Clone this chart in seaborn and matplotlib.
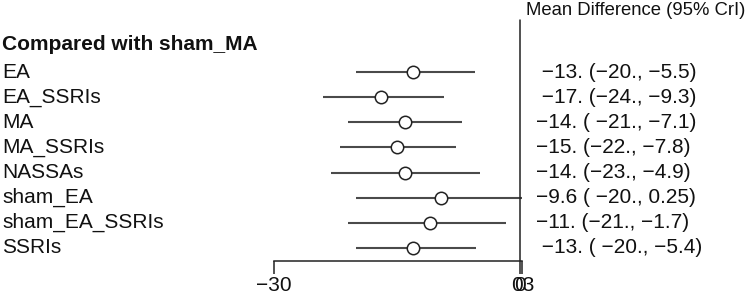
import numpy as np
import pandas as pd
import matplotlib
matplotlib.use("Agg")
import matplotlib.pyplot as plt
import seaborn as sns

sns.set_style("white")
plt.rcParams["font.family"] = ["Liberation Sans", "DejaVu Sans"]

treatments = ["EA", "EA_SSRIs", "MA", "MA_SSRIs", "NASSAs",
              "sham_EA", "sham_EA_SSRIs", "SSRIs"]
mean_diff = [-13.0, -17.0, -14.0, -15.0, -14.0, -9.6, -11.0, -13.0]
lower = [-20.0, -24.0, -21.0, -22.0, -23.0, -20.0, -21.0, -20.0]
upper = [-5.5, -9.3, -7.1, -7.8, -4.9, 0.25, -1.7, -5.4]
ci_labels = [" \u221213. (\u221220., \u22125.5)",
             " \u221217. (\u221224., \u22129.3)",
             "\u221214. ( \u221221., \u22127.1)",
             "\u221215. (\u221222., \u22127.8)",
             "\u221214. (\u221223., \u22124.9)",
             "\u22129.6 ( \u221220., 0.25)",
             "\u221211. (\u221221., \u22121.7)",
             " \u221213. ( \u221220., \u22125.4)"]
tick_vals = [-30, 0, 0.3]
tick_text = ["\u221230", "0", "03"]

df = pd.DataFrame({"treatment": treatments, "md": mean_diff,
                   "lo": lower, "hi": upper, "row": np.arange(len(treatments))})

FS = 15
fig = plt.figure(figsize=(7.49, 2.97), dpi=100)
ax = fig.add_axes([0, 36 / 297, 1, 261 / 297])

px = 8.2  # pixels per unit
ax.set_xlim(-30 - 274 / px, (749 - 520) / px)
ax.set_ylim((261 - 72) / 25.14, -72 / 25.14)

ax.hlines(df["row"], df["lo"], df["hi"], color="#4a4a4a", lw=1.5, zorder=1)
sns.scatterplot(data=df, x="md", y="row", ax=ax, marker="o", s=80,
                facecolor="white", edgecolor="#222222", linewidth=1.1,
                zorder=3, legend=False)
ax.axvline(0, ymin=0, ymax=1 - 20 / 261, color="#222222", lw=1.1, zorder=2)

for sp in ["top", "left", "right"]:
    ax.spines[sp].set_visible(False)
ax.spines["bottom"].set_bounds(-30, 0.3)
ax.spines["bottom"].set_color("#222222")
ax.spines["bottom"].set_linewidth(1.1)
ax.set_xticks(tick_vals)
ax.set_xticklabels(tick_text, fontsize=FS)
ax.tick_params(axis="x", bottom=True, direction="out", length=9, width=1.1,
               color="#222222", pad=2, labelcolor="#111111")
ax.set_yticks([])
ax.set_xlabel("")
ax.set_ylabel("")

trans = ax.get_yaxis_transform()
for i, t in enumerate(treatments):
    ax.text(2 / 749, i, t, transform=trans, ha="left", va="center",
            fontsize=FS, color="#111111")
    ax.text(536 / 749, i, ci_labels[i], transform=trans, ha="left",
            va="center", fontsize=FS, color="#111111")

ax.text(2 / 749, (44 - 72) / 25.14, "Compared with sham_MA", transform=trans,
        ha="left", va="center", fontsize=FS, fontweight="bold",
        color="#111111")
ax.text(526 / 749, (10 - 72) / 25.14, "Mean Difference (95% CrI)",
        transform=trans, ha="left", va="center", fontsize=13.3,
        color="#111111")

fig.savefig("out.png", dpi=100)
